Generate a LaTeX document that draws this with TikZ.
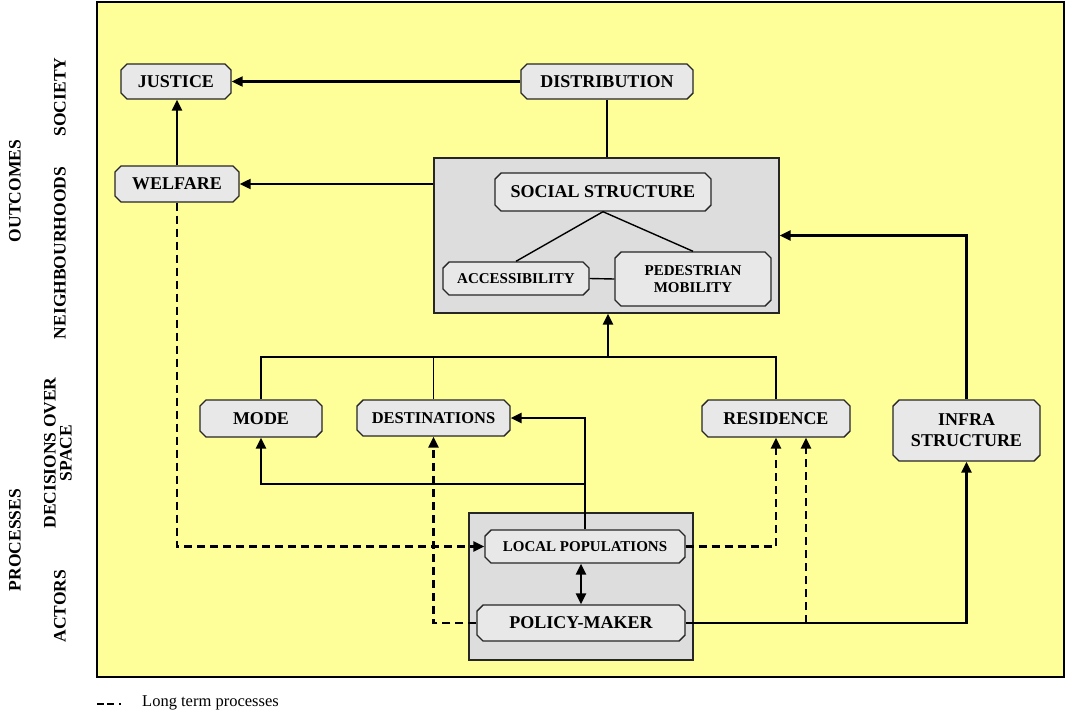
\documentclass[tikz,border=0pt]{standalone}
\usepackage{fontspec}
\setmainfont{Liberation Serif}
\usetikzlibrary{arrows.meta,shapes.misc}
\definecolor{bgyellow}{HTML}{FFFF99}
\definecolor{boxgray}{HTML}{E8E8E8}
\definecolor{panelgray}{HTML}{DDDDDD}
\tikzset{
  bx/.style={chamfered rectangle, chamfered rectangle xsep=3pt, chamfered rectangle ysep=3pt,
    draw=black!85, line width=1.4pt, fill=boxgray, inner sep=0pt, align=center,
    font=\fontsize{18}{21}\selectfont\bfseries},
  sbx/.style={bx, font=\fontsize{15}{17.5}\selectfont\bfseries},
  panel/.style={rectangle, draw=black!85, line width=1.4pt, fill=panelgray, inner sep=0pt},
  lab/.style={rotate=90, align=center, font=\fontsize{17.5}{16}\selectfont\bfseries},
  thinline/.style={line width=1.4pt},
  thickline/.style={line width=2.8pt},
  arr/.style={line width=2.2pt, -{Triangle[length=11pt,width=10pt]}},
  arrthick/.style={line width=2.8pt, -{Triangle[length=11pt,width=10pt]}},
  darr/.style={line width=2.4pt, dash pattern=on 8pt off 5pt, -{Triangle[length=11pt,width=10pt]}},
}
\begin{document}
\begin{tikzpicture}[x=1pt,y=-1pt]
\fill[white] (0,0) rectangle (1066,710);
\useasboundingbox (0,0) rectangle (1066,710);
\draw[fill=bgyellow, line width=1.8pt] (97,2) rectangle (1064,677);

% side labels
\node[lab] (lout) at (15,191) {OUTCOMES};
\node[lab] (lsoc) at (60,97) {SOCIETY};
\node[lab] (lnei) at (60,253) {NEIGHBOURHOODS};
\node[lab] (lpro) at (15,540) {PROCESSES};
\node[lab] (ldec) at (58,453) {DECISIONS OVER\\SPACE};
\node[lab] (lact) at (60,606) {ACTORS};

% panels
\node[panel, minimum width=345pt, minimum height=155pt] (sp) at (606.5,235.5) {};
\node[panel, minimum width=224pt, minimum height=147pt] (ap) at (581,586.5) {};

% boxes
\node[bx, minimum width=110pt, minimum height=35pt] (just) at (176,81.5) {JUSTICE};
\node[bx, minimum width=172pt, minimum height=35pt] (dist) at (607,81.5) {DISTRIBUTION};
\node[bx, minimum width=124pt, minimum height=36pt] (welf) at (177,184) {WELFARE};
\node[bx, minimum width=216pt, minimum height=38pt] (ss) at (603,192) {SOCIAL STRUCTURE};
\node[sbx, minimum width=146pt, minimum height=33pt] (acc) at (516,278.5) {ACCESSIBILITY};
\node[sbx, minimum width=156pt, minimum height=54pt] (ped) at (693,279) {PEDESTRIAN\\MOBILITY};
\node[bx, minimum width=122pt, minimum height=37pt] (mode) at (261,418.5) {MODE};
\node[bx, font=\fontsize{16.5}{19}\selectfont\bfseries, minimum width=153pt, minimum height=36pt] (dest) at (433.5,418) {DESTINATIONS};
\node[bx, minimum width=148pt, minimum height=37pt] (res) at (776,418.5) {RESIDENCE};
\node[bx, minimum width=147pt, minimum height=61pt] (infra) at (966.5,430.5) {INFRA\\STRUCTURE};
\node[sbx, minimum width=200pt, minimum height=33pt] (lp) at (585,546.5) {LOCAL POPULATIONS};
\node[bx, minimum width=208pt, minimum height=36pt] (pm) at (581,623) {POLICY-MAKER};

% top connectors
\draw[arr] (dist.west) -- (just.east);
\draw[thinline] (dist.south) -- (dist.south |- sp.north);
\draw[arrthick] (welf.north) -- (welf.north |- just.south);
\draw[arr] (sp.west |- welf.east) -- (welf.east);
\draw[thinline] (ss.south) -- (acc.north);
\draw[thinline] (ss.south) -- (ped.north);
\draw[thinline] (acc.east) -- (ped.west);

% decisions tree
\coordinate (j) at (608,357);
\draw[thickline] (mode.north) |- (j);
\draw[thinline] (dest.north) -- (dest.north |- j);
\draw[thinline] (res.north) |- (j);
\draw[arrthick] (j) -- (j |- sp.south);
\draw[arrthick] (infra.north) |- (sp.east);

% actors
\coordinate (b) at (585,484);
\draw[arrthick] (lp.north) |- (dest.east);
\draw[arrthick] (b) -| (mode.south);
\draw[line width=2.8pt, {Triangle[length=11pt,width=10pt]}-{Triangle[length=11pt,width=10pt]}] (pm.north) -- (pm.north |- lp.south);

% long-term
\draw[darr] (welf.south) |- (lp.west);
\draw[darr] (lp.east) -| (res.south);
\draw[darr] (pm.west) -| (dest.south);
\draw[arrthick] (pm.east) -| (infra.south);
\coordinate (r2) at (806,0);
\draw[darr] (pm.east -| r2) -- (r2 |- res.south);

% legend
\coordinate (lg1) at (97,704);
\coordinate (lg2) at (122,704);
\draw[line width=2.2pt, dash pattern=on 7pt off 3pt on 7pt off 5pt on 2pt off 9pt] (lg1) -- (lg2);
\node[anchor=west, font=\fontsize{16.5}{18}\selectfont, inner sep=0pt] (lgt) at (142,703) {Long term processes};
\end{tikzpicture}
\end{document}
